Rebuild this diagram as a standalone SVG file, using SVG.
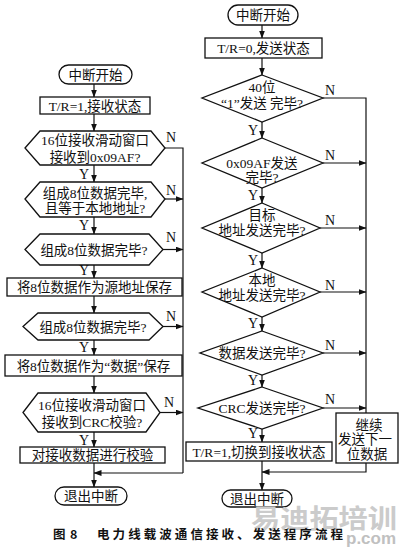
<svg xmlns="http://www.w3.org/2000/svg" width="400" height="552" viewBox="0 0 400 552">
<defs>
<marker id="ah" markerWidth="8" markerHeight="6" refX="7.5" refY="3" orient="auto" markerUnits="userSpaceOnUse">
<path d="M0,0 L8,3 L0,6 Z" fill="#111"/>
</marker>
<style>
.s{fill:#fff;stroke:#111;stroke-width:1.3}
.c{fill:none;stroke:#111;stroke-width:1.2}
.a{fill:none;stroke:#111;stroke-width:1.2;marker-end:url(#ah)}
text{font-family:"Liberation Serif","Noto Sans CJK SC",serif;font-size:13.5px;fill:#111}
.m{text-anchor:middle}
.lb{font-size:14px}
.cap{font-family:"Noto Sans CJK SC","Liberation Sans",sans-serif;font-weight:bold;font-size:12.5px}
.wm{font-family:"Noto Sans CJK SC","Liberation Sans",sans-serif;font-weight:bold;font-size:26px;fill:#cbcbcb}
.wm2{font-family:"Liberation Sans",sans-serif;font-weight:bold;font-size:17px;fill:#c0c0c0}
</style>
</defs>
<rect width="400" height="552" fill="#fff"/>

<g id="connectors">
<!-- left column -->
<line class="a" x1="94" y1="84" x2="94" y2="97"/>
<line class="a" x1="94" y1="114" x2="94" y2="131"/>
<line class="a" x1="94" y1="165" x2="94" y2="182"/>
<line class="a" x1="94" y1="217" x2="94" y2="234"/>
<line class="a" x1="94" y1="265" x2="94" y2="278"/>
<line class="a" x1="94" y1="296" x2="94" y2="313"/>
<line class="a" x1="94" y1="340" x2="94" y2="355"/>
<line class="a" x1="94" y1="376" x2="94" y2="393"/>
<line class="a" x1="94" y1="432" x2="94" y2="447"/>
<line class="a" x1="94" y1="463" x2="94" y2="487"/>
<polyline class="c" points="165,148 183,148 183,473"/>
<line class="a" x1="165" y1="199" x2="183" y2="199"/>
<line class="a" x1="163" y1="249.5" x2="183" y2="249.5"/>
<line class="a" x1="163" y1="326.5" x2="183" y2="326.5"/>
<line class="a" x1="160" y1="412.5" x2="183" y2="412.5"/>
<line class="a" x1="183" y1="473" x2="94" y2="473"/>
<!-- right column -->
<line class="a" x1="262" y1="25" x2="262" y2="38"/>
<line class="a" x1="262" y1="58" x2="262" y2="75"/>
<line class="a" x1="262" y1="122" x2="262" y2="138"/>
<line class="a" x1="262" y1="188" x2="262" y2="203"/>
<line class="a" x1="262" y1="253" x2="262" y2="268"/>
<line class="a" x1="262" y1="317" x2="262" y2="331"/>
<line class="a" x1="262" y1="375" x2="262" y2="387"/>
<line class="a" x1="262" y1="429" x2="262" y2="442"/>
<line class="a" x1="262" y1="461" x2="262" y2="490"/>
<polyline class="c" points="323,98 366,98 366,413"/>
<line class="a" x1="323" y1="163" x2="366" y2="163"/>
<line class="a" x1="320" y1="228" x2="366" y2="228"/>
<line class="a" x1="320" y1="292" x2="366" y2="292"/>
<line class="a" x1="323" y1="353" x2="366" y2="353"/>
<line class="a" x1="323" y1="408" x2="366" y2="408"/>
<polyline class="a" points="366,463 366,472 262,472"/>
</g>

<g id="labels">
<text class="lb" x="166" y="142">N</text>
<text class="lb" x="166" y="195">N</text>
<text class="lb" x="166" y="242">N</text>
<text class="lb" x="166" y="321">N</text>
<text class="lb" x="164" y="407">N</text>
<text class="lb" x="79" y="179">Y</text>
<text class="lb" x="79" y="230">Y</text>
<text class="lb" x="79" y="275">Y</text>
<text class="lb" x="79" y="352">Y</text>
<text class="lb" x="79" y="445">Y</text>
<text class="lb" x="325" y="95">N</text>
<text class="lb" x="325" y="160">N</text>
<text class="lb" x="325" y="225">N</text>
<text class="lb" x="325" y="290">N</text>
<text class="lb" x="325" y="350">N</text>
<text class="lb" x="325" y="404">N</text>
<text class="lb" x="248" y="135">Y</text>
<text class="lb" x="248" y="200">Y</text>
<text class="lb" x="248" y="265">Y</text>
<text class="lb" x="248" y="328">Y</text>
<text class="lb" x="248" y="385">Y</text>
<text class="lb" x="248" y="438">Y</text>
</g>

<!-- left column nodes -->
<g id="L_start"><rect class="s" x="59" y="65" width="73" height="19" rx="9.5"/><text class="m" x="95.5" y="79.5">中断开始</text></g>
<g id="L_state"><rect class="s" x="40" y="97" width="110" height="17"/><text class="m" x="95" y="110.5">T/R=1,接收状态</text></g>
<g id="L_h1"><polygon class="s" points="25,148 40,131 151,131 165,148 151,165 40,165"/><text class="m" x="95" y="145">16位接收滑动窗口</text><text class="m" x="95" y="162">接收到0x09AF?</text></g>
<g id="L_h2"><polygon class="s" points="25,199 40,182 151,182 165,199 151,217 40,217"/><text class="m" x="95" y="198">组成8位数据完毕,</text><text class="m" x="95" y="213">且等于本地地址?</text></g>
<g id="L_h3"><polygon class="s" points="25,249.5 40,234 149,234 163,249.5 149,265 40,265"/><text class="m" x="94" y="255">组成8位数据完毕?</text></g>
<g id="L_src"><rect class="s" x="7" y="278" width="175" height="18"/><text class="m" x="94.5" y="292">将8位数据作为源地址保存</text></g>
<g id="L_h4"><polygon class="s" points="23,326.5 38,313 149,313 163,326.5 149,340 38,340"/><text class="m" x="93" y="332">组成8位数据完毕?</text></g>
<g id="L_data"><rect class="s" x="5" y="355" width="177" height="21"/><text class="m" x="93.5" y="371">将8位数据作为“数据”保存</text></g>
<g id="L_h5"><polygon class="s" points="23,412.5 38,393 146,393 160,412.5 146,432 38,432"/><text class="m" x="92" y="410">16位接收滑动窗口</text><text class="m" x="92" y="427">接收到CRC校验?</text></g>
<g id="L_check"><rect class="s" x="20" y="447" width="145" height="16"/><text class="m" x="92.5" y="460">对接收数据进行校验</text></g>
<g id="L_end"><rect class="s" x="55" y="487" width="72" height="18" rx="9"/><text class="m" x="91" y="501">退出中断</text></g>

<!-- right column nodes -->
<g id="R_start"><rect class="s" x="228" y="5" width="70" height="20" rx="10"/><text class="m" x="263" y="20">中断开始</text></g>
<g id="R_state"><rect class="s" x="205" y="38" width="117" height="20"/><text class="m" x="263.5" y="53">T/R=0,发送状态</text></g>
<g id="R_d1"><polygon class="s" points="262,75 323,98 262,122 202,98"/><text class="m" x="262" y="92">40位</text><text class="m" x="262" y="108">“1”发送 完毕?</text></g>
<g id="R_d2"><polygon class="s" points="262,138 323,163 262,188 202,163"/><text class="m" x="262" y="168">0x09AF发送</text><text class="m" x="262" y="182">完毕?</text></g>
<g id="R_d3"><polygon class="s" points="262,203 320,228 262,253 202,228"/><text class="m" x="262" y="220">目标</text><text class="m" x="262" y="235">地址发送完毕?</text></g>
<g id="R_d4"><polygon class="s" points="262,268 320,292 262,317 202,292"/><text class="m" x="262" y="285">本地</text><text class="m" x="262" y="300">地址发送完毕?</text></g>
<g id="R_d5"><polygon class="s" points="262,331 323,353 262,375 200,353"/><text class="m" x="262" y="358">数据发送完毕?</text></g>
<g id="R_d6"><polygon class="s" points="262,387 323,408 262,429 198,408"/><text class="m" x="262" y="413">CRC发送完毕?</text></g>
<g id="R_next"><rect class="s" x="336" y="413" width="62" height="50"/><text class="m" x="369" y="430">继续</text><text x="338" y="444">发送下一</text><text class="m" x="367" y="459">位数据</text></g>
<g id="R_switch"><rect class="s" x="186" y="442" width="146" height="19"/><text class="m" x="259" y="456.5">T/R=1,切换到接收状态</text></g>
<g id="R_end"><rect class="s" x="222" y="490" width="70" height="17" rx="8.5"/><text class="m" x="257" y="503.5">退出中断</text></g>

<g id="watermark">
<text class="wm" x="251" y="528" textLength="146" lengthAdjust="spacingAndGlyphs">易迪拓培训</text>
<text class="wm2" x="346" y="544">p.com</text>
</g>
<g id="caption">
<text class="cap" x="53" y="539">图</text>
<text class="cap" x="70" y="539">8</text>
<text class="cap" x="97" y="539" textLength="246">电力线载波通信接收、发送程序流程</text>
</g>
</svg>
